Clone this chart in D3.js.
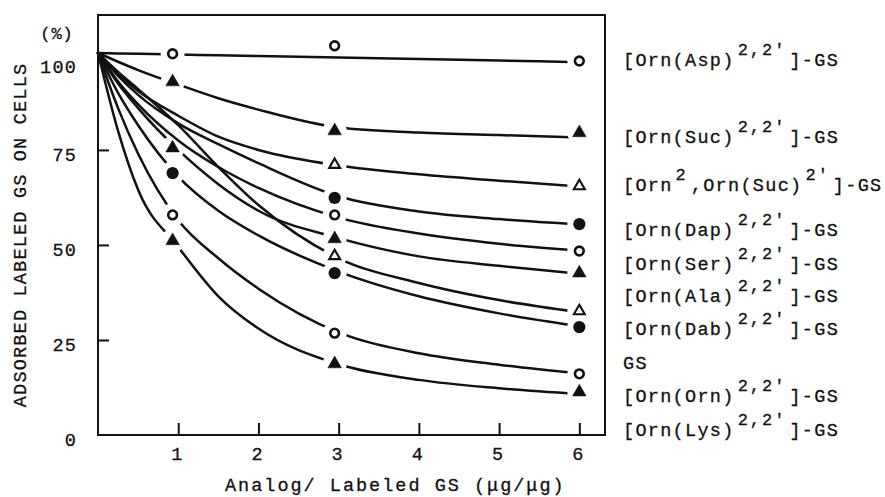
<!DOCTYPE html>
<html><head><meta charset="utf-8">
<script src="https://cdn.jsdelivr.net/npm/d3@7"></script>
<style>
body{margin:0;background:#fff}
svg{display:block}
text{font-family:"Liberation Mono","Courier New",monospace;fill:#111;stroke:#111;stroke-width:0.3px}
</style>
</head><body>
<svg id="chart" width="885" height="497"></svg>
<script>
// ---------------- data ----------------
const xTicks = [1, 2, 3, 4, 5, 6];
const yTicks = [0, 25, 50, 75, 100];
const yTickMarks = [25, 50, 75];
// x positions (µg/µg) at which the smooth fitted curves were read
const curveX = [0, 0.25, 0.5, 1, 1.5, 2, 3, 4, 5, 6];
// x positions of the measured points
const markerX = [0.93, 2.95, 6];

const seriesLabels = [
  "[Orn(Asp)^{2,2′}]-GS",
  "[Orn(Suc)^{2,2′}]-GS",
  "[Orn^{2},Orn(Suc)^{2′}]-GS",
  "[Orn(Dap)^{2,2′}]-GS",
  "[Orn(Ser)^{2,2′}]-GS",
  "[Orn(Ala)^{2,2′}]-GS",
  "[Orn(Dab)^{2,2′}]-GS",
  "GS",
  "[Orn(Orn)^{2,2′}]-GS",
  "[Orn(Lys)^{2,2′}]-GS"
];
const markerKinds = ["circleOpen","triFilled","triOpen","circleFilled","circleOpen",
                     "triFilled","triOpen","circleFilled","circleOpen","triFilled"];

// fitted curves (% adsorbed) at curveX
const curveAsp  = [100.5, 100.4, 100.3, 100.1, 99.9, 99.7, 99.3, 98.9, 98.5, 98.1];
const curveSuc  = [100.5, 98.2, 96.0, 92.2, 88.6, 85.6, 80.9, 79.6, 78.9, 78.3];
const curveOSuc = [100.5, 95.0, 90.5, 84.0, 78.5, 75.0, 70.9, 68.6, 66.9, 65.4];
const curveDap  = [100.5, 94.5, 89.5, 82.0, 76.5, 71.5, 62.8, 58.8, 56.8, 55.4];
const curveSer  = [100.5, 93.0, 87.0, 77.5, 70.5, 65.0, 57.2, 53.0, 50.3, 48.5];
const curveAla  = [100.5, 92.5, 86.0, 75.0, 66.0, 59.0, 51.8, 47.0, 44.5, 42.4];
const curveDab  = [100.5, 95.5, 91.0, 81.5, 70.5, 60.5, 46.5, 40.0, 35.5, 32.3];
const curveGS   = [100.5, 90.0, 81.5, 68.0, 59.0, 52.5, 43.0, 36.5, 32.0, 28.6];
const curveOrn  = [100.5, 86.0, 74.0, 56.5, 46.5, 38.5, 27.0, 21.5, 18.5, 16.2];
const curveLys  = [100.5, 80.0, 64.5, 49.5, 36.5, 28.0, 18.6, 14.5, 12.3, 10.8];

// measured points (% adsorbed) at markerX; null = no point drawn
const pointsAsp  = [100.3, 102.4, 98.4];
const pointsSuc  = [92.9, 80.0, 79.5];
const pointsOSuc = [null, 71.1, 65.5];
const pointsDap  = [null, 62.4, 55.5];
const pointsSer  = [null, 57.9, 48.4];
const pointsAla  = [75.5, 51.6, 42.6];
const pointsDab  = [null, 47.1, 32.6];
const pointsGS   = [68.9, 42.6, 28.4];
const pointsOrn  = [57.9, 26.8, 16.1];
const pointsLys  = [51.1, 18.7, 11.3];

const curves = [curveAsp, curveSuc, curveOSuc, curveDap, curveSer, curveAla, curveDab, curveGS, curveOrn, curveLys];
const points = [pointsAsp, pointsSuc, pointsOSuc, pointsDap, pointsSer, pointsAla, pointsDab, pointsGS, pointsOrn, pointsLys];

// ---------------- layout ----------------
const W = 885, H = 497;
const frame = {left: 98, right: 605, top: 15, bottom: 435};
const labelAnchor = [98.4, 78.2, 65.5, 53.6, 44.7, 36.3, 27.6, 18.7, 10.0, 1.05]; // % level of each label
const ink = "#111";

const svg = d3.select("#chart");
const x = d3.scaleLinear().domain([0, 6.32]).range([frame.left, frame.right]);
const y = d3.scaleLinear().domain([0, 110.5]).range([frame.bottom, frame.top]);

// frame
svg.append("rect")
  .attr("x", frame.left).attr("y", frame.top)
  .attr("width", frame.right - frame.left).attr("height", frame.bottom - frame.top)
  .attr("fill", "none").attr("stroke", ink).attr("stroke-width", 2);

// y axis
const yAxis = svg.append("g").attr("transform", `translate(${frame.left},0)`)
  .call(d3.axisLeft(y).tickValues(yTicks).tickSizeInner(-11).tickSizeOuter(0).tickPadding(21).tickFormat(d3.format("d")));
yAxis.select(".domain").remove();
yAxis.selectAll(".tick line").attr("stroke", ink).attr("stroke-width", 2)
  .filter(d => !yTickMarks.includes(d)).remove();
yAxis.selectAll(".tick text").attr("font-size", 18.5).attr("letter-spacing", 1.2)
  .attr("font-family", "Liberation Mono, monospace").attr("fill", ink)
  .attr("dy", d => d === 100 ? "0.95em" : "0.55em");

// x axis
const xAxis = svg.append("g").attr("transform", `translate(0,${frame.bottom})`)
  .call(d3.axisBottom(x).tickValues(xTicks).tickSizeInner(-12).tickSizeOuter(0).tickPadding(12).tickFormat(d3.format("d")));
xAxis.select(".domain").remove();
xAxis.selectAll(".tick line").attr("stroke", ink).attr("stroke-width", 2);
xAxis.selectAll(".tick text").attr("font-size", 18.5).attr("font-family", "Liberation Mono, monospace")
  .attr("fill", ink).attr("dx", "-2");

// axis titles
svg.append("text").attr("x", 225).attr("y", 491)
  .attr("font-size", 18.5).attr("letter-spacing", 2.0)
  .text("Analog/ Labeled GS (μg/μg)");
svg.append("text").attr("transform", "translate(26,235) rotate(-90)")
  .attr("text-anchor", "middle").attr("font-size", 18.5).attr("letter-spacing", 1.2)
  .text("ADSORBED LABELED GS ON CELLS");
svg.append("text").attr("x", 57).attr("y", 39).attr("text-anchor", "middle")
  .attr("font-size", 17).attr("letter-spacing", 1).text("(%)");

// curves with gaps around their own points
const defs = svg.append("defs");
const line = d3.line().x((d, i) => x(curveX[i])).y(d => y(d)).curve(d3.curveMonotoneX);

curves.forEach((c, i) => {
  const interp = d3.scaleLinear().domain(curveX).range(c);
  const m = defs.append("mask").attr("id", "gap" + i).attr("maskUnits", "userSpaceOnUse")
    .attr("x", 0).attr("y", 0).attr("width", W).attr("height", H);
  m.append("rect").attr("width", W).attr("height", H).attr("fill", "white");
  points[i].forEach((v, j) => {
    if (v == null) return;
    const cx = x(markerX[j]), cy = y(v);
    if (Math.abs(cy - y(interp(markerX[j]))) > 9) return;
    m.append("circle").attr("cx", cx).attr("cy", cy).attr("r", 12).attr("fill", "black");
  });
  svg.append("path").datum(c)
    .attr("d", line)
    .attr("fill", "none").attr("stroke", ink).attr("stroke-width", 2.5)
    .attr("stroke-linecap", "round")
    .attr("mask", `url(#gap${i})`);
});

// markers
const sym = {
  circleOpen:   {type: d3.symbolCircle,   size: 60,  fill: "#fff", sw: 2.6},
  circleFilled: {type: d3.symbolCircle,   size: 118, fill: ink,    sw: 0},
  triFilled:    {type: d3.symbolTriangle, size: 80,  fill: ink,    sw: 0.5},
  triOpen:      {type: d3.symbolTriangle, size: 52,  fill: "#fff", sw: 2.1}
};
points.forEach((p, i) => {
  const s = sym[markerKinds[i]];
  p.forEach((v, j) => {
    if (v == null) return;
    svg.append("path")
      .attr("d", d3.symbol().type(s.type).size(s.size)())
      .attr("transform", `translate(${x(markerX[j])},${y(v)})`)
      .attr("fill", s.fill).attr("stroke", ink).attr("stroke-width", s.sw)
      .attr("stroke-linejoin", "miter");
  });
});

// labels at the right
seriesLabels.forEach((lab, i) => {
  const t = svg.append("text").attr("x", 623).attr("y", y(labelAnchor[i]) + 5)
    .attr("font-size", 18.5).attr("letter-spacing", 1.3);
  const parts = lab.split(/(\^\{[^}]*\})/).filter(s => s.length);
  let raised = false;
  parts.forEach(part => {
    if (part.startsWith("^{")) {
      t.append("tspan").attr("dy", -11).attr("dx", 3).attr("font-size", 17).attr("letter-spacing", 2)
        .text(part.slice(2, -1));
      raised = true;
    } else {
      const ts = t.append("tspan").text(part);
      if (raised) { ts.attr("dy", 11).attr("dx", 3); raised = false; }
    }
  });
});
</script>
</body></html>
